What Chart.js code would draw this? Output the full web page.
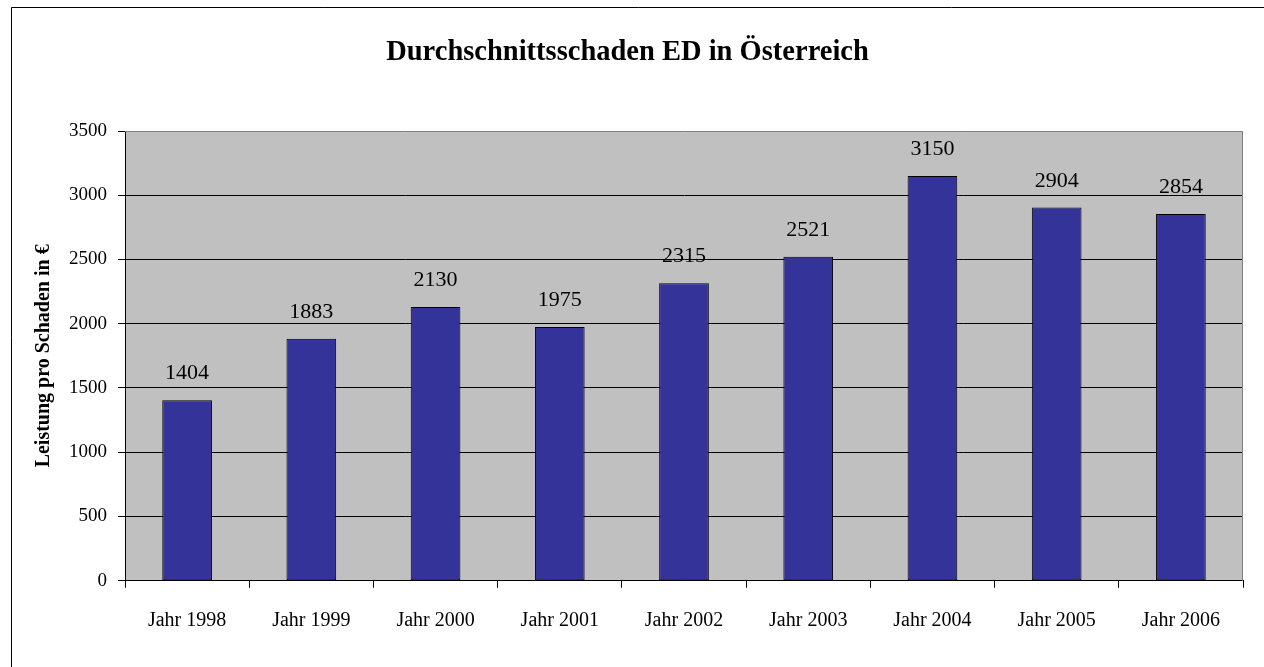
<!DOCTYPE html>
<html>
<head>
<meta charset="utf-8">
<script src="https://cdn.jsdelivr.net/npm/chart.js@4"></script>
<style>
  html, body { margin: 0; padding: 0; background: #fff; }
  #wrap { width: 1264px; height: 667px; position: relative; }
</style>
</head>
<body>
<div id="wrap"><canvas id="c" width="1264" height="667"></canvas></div>
<script>
const chartTitle = 'Durchschnittsschaden ED in Österreich';
const yAxisTitle = 'Leistung pro Schaden in €';
const categories = ['Jahr 1998', 'Jahr 1999', 'Jahr 2000', 'Jahr 2001', 'Jahr 2002', 'Jahr 2003', 'Jahr 2004', 'Jahr 2005', 'Jahr 2006'];
const values = [1404, 1883, 2130, 1975, 2315, 2521, 3150, 2904, 2854];
const yTicks = [0, 500, 1000, 1500, 2000, 2500, 3000, 3500];

const FONT = "'Liberation Serif', 'DejaVu Serif', serif";

const framePlugin = {
  id: 'frame',
  beforeDraw(chart) {
    const ctx = chart.ctx;
    const a = chart.chartArea;
    ctx.save();
    ctx.fillStyle = '#ffffff';
    ctx.fillRect(0, 0, chart.width, chart.height);
    ctx.fillStyle = '#C0C0C0';
    ctx.fillRect(a.left, a.top, a.right - a.left, a.bottom - a.top);
    ctx.strokeStyle = '#000000';
    ctx.lineWidth = 1;
    ctx.beginPath();
    ctx.moveTo(11.5, chart.height + 5);
    ctx.lineTo(11.5, 7.5);
    ctx.lineTo(chart.width + 5, 7.5);
    ctx.stroke();
    ctx.restore();
  },
  afterDatasetsDraw(chart) {
    const ctx = chart.ctx;
    const a = chart.chartArea;
    ctx.save();
    ctx.strokeStyle = '#808080';
    ctx.lineWidth = 1;
    ctx.beginPath();
    ctx.moveTo(a.left, Math.round(a.top) + 0.5);
    ctx.lineTo(Math.round(a.right) - 0.5, Math.round(a.top) + 0.5);
    ctx.lineTo(Math.round(a.right) - 0.5, a.bottom);
    ctx.stroke();
    const meta = chart.getDatasetMeta(0);
    ctx.fillStyle = '#000000';
    ctx.font = "22px " + FONT;
    ctx.textAlign = 'center';
    ctx.textBaseline = 'alphabetic';
    meta.data.forEach((bar, i) => {
      ctx.fillText(String(values[i]), bar.x, bar.y - 21);
    });
    ctx.restore();
  }
};

new Chart(document.getElementById('c'), {
  type: 'bar',
  data: {
    labels: categories,
    datasets: [{
      data: values,
      backgroundColor: '#333399',
      borderColor: '#000000',
      borderWidth: 1,
      borderSkipped: false,
      barPercentage: 0.4,
      categoryPercentage: 1.0
    }]
  },
  options: {
    responsive: false,
    animation: false,
    devicePixelRatio: 1,
    layout: { padding: { left: 12, right: 21, top: 0, bottom: 0 } },
    plugins: {
      legend: { display: false },
      tooltip: { enabled: false },
      title: {
        display: true,
        text: chartTitle,
        color: '#000000',
        font: { family: FONT, size: 28.5, weight: 'bold', lineHeight: 1.2 },
        padding: { top: 36, bottom: 60.8 }
      }
    },
    scales: {
      x: {
        grid: {
          display: true,
          offset: true,
          drawOnChartArea: false,
          drawTicks: true,
          tickLength: 7,
          tickColor: '#000000',
          color: '#000000'
        },
        border: { display: true, color: '#000000', width: 1 },
        ticks: {
          color: '#000000',
          font: { family: FONT, size: 20 },
          padding: 21,
          maxRotation: 0
        },
        afterFit(scale) { scale.height = 86.3; }
      },
      y: {
        min: 0,
        max: 3500,
        afterBuildTicks(scale) { scale.ticks = yTicks.map(v => ({ value: v })); },
        grid: {
          color: (c) => (c.tick && c.tick.value === 3500) ? 'rgba(0,0,0,0)' : '#000000',
          tickColor: '#000000',
          tickLength: 7,
          drawTicks: true,
          lineWidth: 1
        },
        border: { display: true, color: '#000000', width: 1 },
        ticks: {
          color: '#000000',
          font: { family: FONT, size: 19 },
          padding: 11,
          callback: (v) => String(v)
        },
        title: {
          display: true,
          text: yAxisTitle,
          color: '#000000',
          font: { family: FONT, size: 20, weight: 'bold', lineHeight: 1.2 },
          padding: { top: 20, bottom: 0 }
        },
        afterFit(scale) { scale.width = 113; }
      }
    }
  },
  plugins: [framePlugin]
});
</script>
</body>
</html>
